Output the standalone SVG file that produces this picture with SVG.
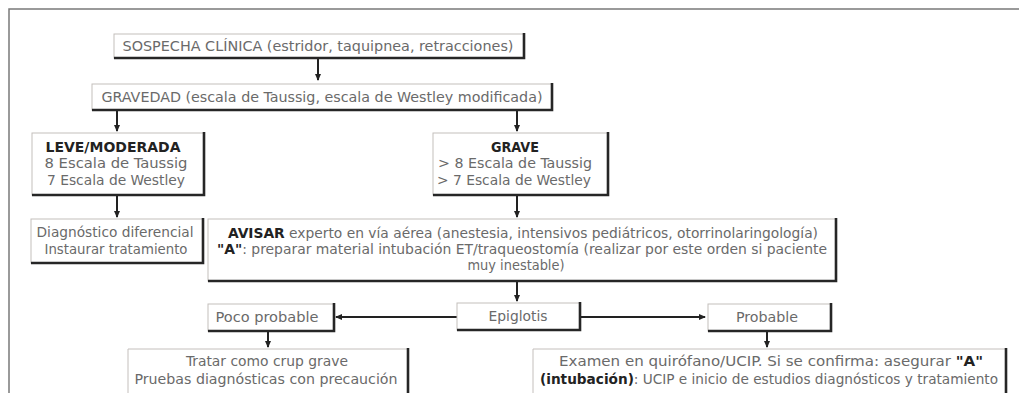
<svg xmlns="http://www.w3.org/2000/svg" width="1019" height="407" viewBox="0 0 1019 407">
<defs>
<style>
.box{fill:#fff;stroke:#c4bfbc;stroke-width:1}
.sh{fill:none;stroke:#262626;stroke-width:2.6}
.t{font-family:"Liberation Sans Narrow","DejaVu Sans Condensed","Roboto Condensed",sans-serif;font-size:14px;fill:#6a6a6a;text-anchor:middle}
.b{font-weight:bold;fill:#222}
.c{fill:none;stroke:#222;stroke-width:2}
</style>
<marker id="ah" markerUnits="userSpaceOnUse" markerWidth="8" markerHeight="8" refX="6" refY="4" orient="auto">
<path d="M0,1 L7,4 L0,7 z" fill="#222"/>
</marker>
</defs>
<rect width="1019" height="407" fill="#fff"/>
<path d="M9,393 L9,9 L1019,9" fill="none" stroke="#7a7a7a" stroke-width="1.5"/>

<g id="connectors">
<path class="c" d="M318,58 V80" marker-end="url(#ah)"/>
<path class="c" d="M117,110 V131" marker-end="url(#ah)"/>
<path class="c" d="M517,110 V131" marker-end="url(#ah)"/>
<path class="c" d="M117,195 V217" marker-end="url(#ah)"/>
<path class="c" d="M517,195 V217" marker-end="url(#ah)"/>
<path class="c" d="M517,281 V301" marker-end="url(#ah)"/>
<path class="c" d="M457,317 H336" marker-end="url(#ah)"/>
<path class="c" d="M580,317 H705" marker-end="url(#ah)"/>
<path class="c" d="M268,331 V347" marker-end="url(#ah)"/>
<path class="c" d="M767,331 V347" marker-end="url(#ah)"/>
</g>

<g id="sospecha">
<rect class="box" x="114" y="34" width="410" height="24"/>
<path class="sh" d="M524,33 V58 H114"/>
<text class="t" x="318" y="51" textLength="391" lengthAdjust="spacingAndGlyphs">SOSPECHA CLÍNICA (estridor, taquipnea, retracciones)</text>
</g>

<g id="gravedad">
<rect class="box" x="92" y="84" width="460" height="26"/>
<path class="sh" d="M552,83 V110 H92"/>
<text class="t" x="322" y="102" textLength="441" lengthAdjust="spacingAndGlyphs">GRAVEDAD (escala de Taussig, escala de Westley modificada)</text>
</g>

<g id="leve">
<rect class="box" x="32" y="133" width="172" height="62"/>
<path class="sh" d="M204,132 V195 H32"/>
<text class="t b" x="113" y="152" textLength="135" lengthAdjust="spacingAndGlyphs">LEVE/MODERADA</text>
<text class="t" x="116" y="168" textLength="143" lengthAdjust="spacingAndGlyphs">8 Escala de Taussig</text>
<text class="t" x="116" y="185" textLength="138" lengthAdjust="spacingAndGlyphs">7 Escala de Westley</text>
</g>

<g id="grave">
<rect class="box" x="433" y="133" width="175" height="62"/>
<path class="sh" d="M608,132 V195 H433"/>
<text class="t b" x="515" y="152" textLength="48" lengthAdjust="spacingAndGlyphs">GRAVE</text>
<text class="t" x="515" y="168" textLength="154" lengthAdjust="spacingAndGlyphs">&gt; 8 Escala de Taussig</text>
<text class="t" x="514" y="185" textLength="154" lengthAdjust="spacingAndGlyphs">&gt; 7 Escala de Westley</text>
</g>

<g id="diagnostico">
<rect class="box" x="31" y="219" width="172" height="44"/>
<path class="sh" d="M203,218 V263 H31"/>
<text class="t" x="115" y="237" textLength="157" lengthAdjust="spacingAndGlyphs">Diagnóstico diferencial</text>
<text class="t" x="116" y="254" textLength="143" lengthAdjust="spacingAndGlyphs">Instaurar tratamiento</text>
</g>

<g id="avisar">
<rect class="box" x="208" y="219" width="628" height="62"/>
<path class="sh" d="M836,218 V281 H208"/>
<text class="t" x="523" y="238" textLength="590" lengthAdjust="spacingAndGlyphs"><tspan class="b">AVISAR</tspan> experto en vía aérea (anestesia, intensivos pediátricos, otorrinolaringología)</text>
<text class="t" x="522" y="254" textLength="610" lengthAdjust="spacingAndGlyphs"><tspan class="b">"A"</tspan>: preparar material intubación ET/traqueostomía (realizar por este orden si paciente</text>
<text class="t" x="516" y="270" textLength="97" lengthAdjust="spacingAndGlyphs">muy inestable)</text>
</g>

<g id="epiglotis">
<rect class="box" x="457" y="303" width="123" height="27"/>
<path class="sh" d="M580,302 V330 H457"/>
<text class="t" x="518" y="321" textLength="59" lengthAdjust="spacingAndGlyphs">Epiglotis</text>
</g>

<g id="poco">
<rect class="box" x="208" y="304" width="126" height="27"/>
<path class="sh" d="M334,303 V331 H208"/>
<text class="t" x="267" y="322" textLength="103" lengthAdjust="spacingAndGlyphs">Poco probable</text>
</g>

<g id="probable">
<rect class="box" x="708" y="304" width="123" height="27"/>
<path class="sh" d="M831,303 V331 H708"/>
<text class="t" x="767" y="322" textLength="62" lengthAdjust="spacingAndGlyphs">Probable</text>
</g>

<g id="tratar">
<path class="box" d="M128,393 V349 H408"/>
<path class="sh" d="M408,348 V393"/>
<text class="t" x="267" y="366" textLength="162" lengthAdjust="spacingAndGlyphs">Tratar como crup grave</text>
<text class="t" x="266" y="384" textLength="263" lengthAdjust="spacingAndGlyphs">Pruebas diagnósticas con precaución</text>
</g>

<g id="examen">
<path class="box" d="M533,393 V349 H1006"/>
<path class="sh" d="M1006,348 V393"/>
<text class="t" x="771" y="366" textLength="424" lengthAdjust="spacingAndGlyphs">Examen en quirófano/UCIP. Si se confirma: asegurar <tspan class="b">"A"</tspan></text>
<text class="t" x="769" y="384" textLength="458" lengthAdjust="spacingAndGlyphs"><tspan class="b">(intubación)</tspan>: UCIP e inicio de estudios diagnósticos y tratamiento</text>
</g>
</svg>
